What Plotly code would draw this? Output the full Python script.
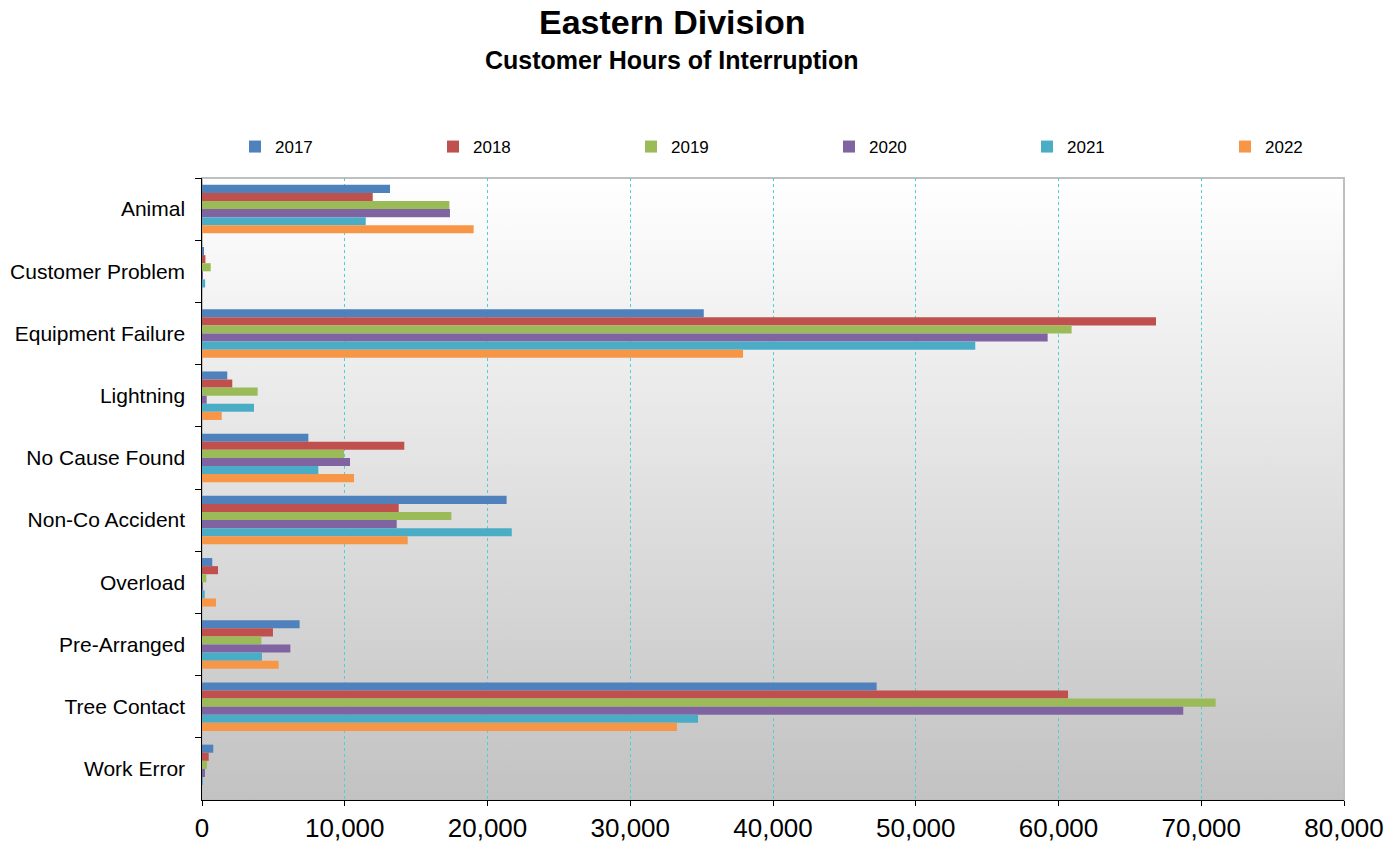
import base64
import plotly.graph_objects as go

categories = ["Animal", "Customer Problem", "Equipment Failure", "Lightning", "No Cause Found",
              "Non-Co Accident", "Overload", "Pre-Arranged", "Tree Contact", "Work Error"]
years = ["2017", "2018", "2019", "2020", "2021", "2022"]

v2017 = [13170, 100, 35150, 1770, 7450, 21340, 720, 6840, 47260, 790]
v2018 = [11960, 240, 66830, 2120, 14170, 13780, 1120, 4970, 60670, 470]
v2019 = [17330, 610, 60920, 3900, 9950, 17470, 300, 4160, 71010, 350]
v2020 = [17370, 20, 59240, 330, 10370, 13640, 20, 6190, 68740, 210]
v2021 = [11470, 220, 54170, 3640, 8150, 21700, 190, 4200, 34750, 40]
v2022 = [19030, 0, 37900, 1380, 10650, 14410, 980, 5370, 33270, 0]

series = [v2017, v2018, v2019, v2020, v2021, v2022]
colors = ["#4F81BD", "#C0504D", "#9BBB59", "#8064A2", "#4BACC6", "#F79646"]

L, R, T, B = 202, 49, 178, 49
W, H = 1393, 849
pw = W - L - R
ph = H - T - B

def px_x(x):
    return (x - L) / pw

def px_y(y):
    return (H - B - y) / ph

fig = go.Figure()
legend_names = ["legend", "legend2", "legend3", "legend4", "legend5", "legend6"]
for i, (name, vals, col) in enumerate(zip(years, series, colors)):
    fig.add_trace(go.Bar(y=categories, x=vals, name=name, orientation="h",
                         marker=dict(color=col, line=dict(width=0)),
                         legend=legend_names[i]))

# gradient background as an SVG image
svg = ('<svg xmlns="http://www.w3.org/2000/svg" width="100" height="100" preserveAspectRatio="none">'
       '<defs><linearGradient id="g" x1="0" y1="0" x2="0" y2="1">'
       '<stop offset="0" stop-color="#FFFFFF"/><stop offset="1" stop-color="#C2C2C2"/>'
       '</linearGradient></defs><rect width="100" height="100" fill="url(#g)"/></svg>')
src = "data:image/svg+xml;base64," + base64.b64encode(svg.encode()).decode()

layout_legends = {}
for i in range(6):
    key = legend_names[i]
    layout_legends[key] = dict(orientation="h", x=px_x(235 + 198 * i), xanchor="left",
                               y=px_y(147), yanchor="middle", font=dict(size=17),
                               itemwidth=30, bgcolor="rgba(0,0,0,0)", borderwidth=0)

fig.update_layout(
    width=W, height=H,
    margin=dict(l=L, r=R, t=T, b=B),
    paper_bgcolor="white",
    plot_bgcolor="rgba(0,0,0,0)",
    barmode="group", bargap=0.22, bargroupgap=0,
    font=dict(family="Liberation Sans, Arial, sans-serif", color="black"),
    images=[dict(source=src, xref="paper", yref="paper", x=0, y=1, sizex=1, sizey=1,
                 xanchor="left", yanchor="top", sizing="stretch", layer="below")],
    shapes=[dict(type="rect", xref="paper", yref="paper", x0=0, x1=1, y0=0, y1=1,
                 line=dict(color="#BFBFBF", width=2), fillcolor="rgba(0,0,0,0)", layer="below")],
    showlegend=True,
    annotations=[
        dict(text="<b>Eastern Division</b>", x=px_x(672), y=px_y(22), xref="paper", yref="paper",
             xanchor="center", yanchor="middle", showarrow=False, font=dict(size=34)),
        dict(text="<b>Customer Hours of Interruption</b>", x=px_x(672), y=px_y(60),
             xref="paper", yref="paper", xanchor="center", yanchor="middle",
             showarrow=False, font=dict(size=25)),
    ],
    **layout_legends,
)

fig.update_xaxes(range=[0, 80000], dtick=10000, tickformat=",d", automargin=False,
                 showgrid=True, gridcolor="#4FD0D6", gridwidth=1, griddash="dot",
                 zeroline=False, showline=True, linecolor="black", linewidth=1,
                 ticks="outside", ticklen=5, tickcolor="black",
                 tickfont=dict(size=26))
fig.update_yaxes(autorange="reversed", type="category", tickson="boundaries", automargin=False,
                 showline=True, linecolor="black", linewidth=1, showgrid=False,
                 ticks="outside", ticklen=6, tickcolor="black",
                 tickfont=dict(size=21), ticksuffix="  ")

fig.write_html("out.html")
